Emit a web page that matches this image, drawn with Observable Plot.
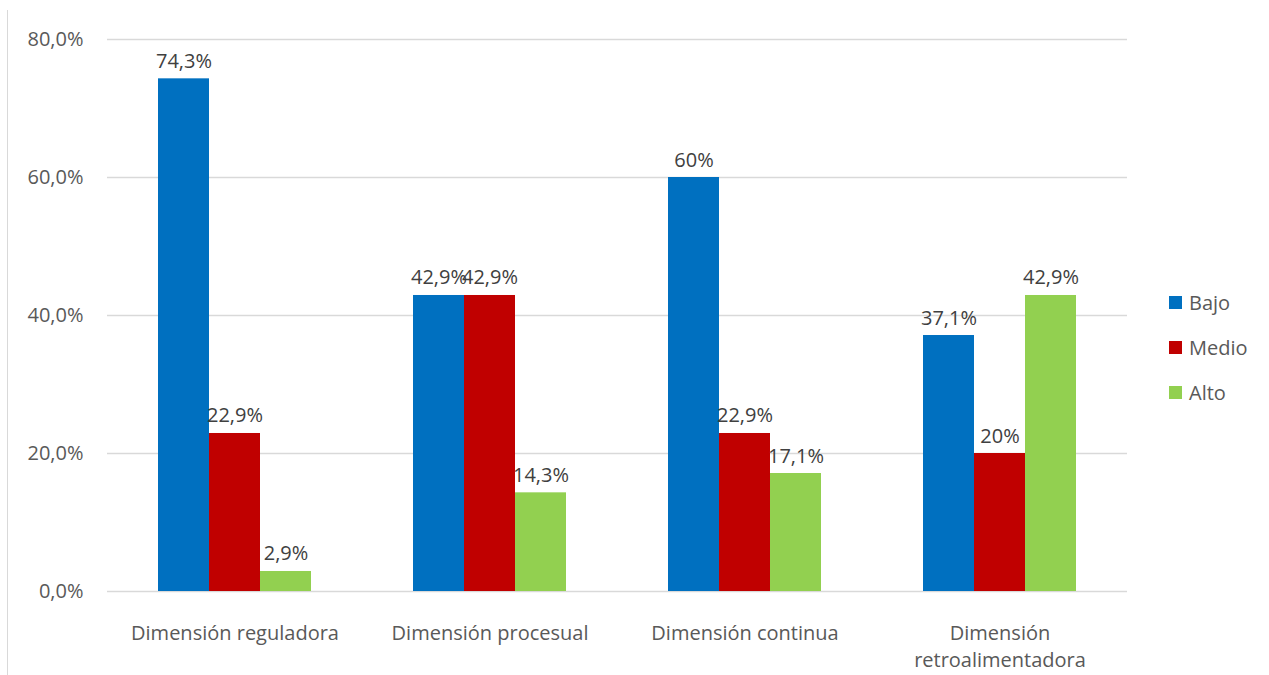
<!DOCTYPE html>
<html>
<head>
<meta charset="utf-8">
<script src="https://cdn.jsdelivr.net/npm/d3@7"></script>
<script src="https://cdn.jsdelivr.net/npm/@observablehq/plot@0.6"></script>
<style>
  html, body { margin: 0; padding: 0; background: #fff; }
  #wrap { position: relative; width: 1269px; height: 675px; overflow: hidden; font-family: "Open Sans", sans-serif; }
  #border { position: absolute; left: 7px; top: 10px; width: 0; height: 670px; border-left: 1.5px solid #d9d9d9; }
  .lg { position: absolute; left: 1169px; height: 30px; display: flex; align-items: center; font-size: 20px; color: #595959; }
  .lg span.sw { width: 13px; height: 13px; display: inline-block; margin-right: 7px; }
</style>
</head>
<body>
<div id="wrap"><div id="border"></div></div>
<script>
const categories = ["Dimensión reguladora", "Dimensión procesual", "Dimensión continua", "Dimensión\nretroalimentadora"];
const series = ["Bajo", "Medio", "Alto"];
const colors = ["#0070C0", "#C00000", "#92D050"];
const bajo = [74.3, 42.9, 60, 37.1];
const medio = [22.9, 42.9, 22.9, 20];
const alto = [2.9, 14.3, 17.1, 42.9];
const yTicks = [0, 20, 40, 60, 80];

const seriesValues = [bajo, medio, alto];
const data = [];
categories.forEach((c, i) => {
  series.forEach((s, j) => data.push({category: c, serie: s, value: seriesValues[j][i]}));
});

const fmtLabel = v => (Number.isInteger(v) ? String(v) : v.toFixed(1).replace(".", ",")) + "%";
const fmtTick = v => v.toFixed(1).replace(".", ",") + "%";

const chart = Plot.plot({
  width: 1269,
  height: 675,
  marginLeft: 107,
  marginRight: 142,
  marginTop: 39,
  marginBottom: 84,
  style: {fontFamily: "'Open Sans', sans-serif", fontSize: "20px", color: "#595959", background: "transparent"},
  fx: {domain: categories, padding: 0, label: null, axis: null},
  x: {domain: series, paddingInner: 0, paddingOuter: 1, axis: null},
  y: {domain: [0, 80], label: null},
  color: {domain: series, range: colors},
  marks: [
    Plot.ruleY(yTicks, {stroke: "#d9d9d9", strokeWidth: 1.5, strokeOpacity: 1}),
    Plot.axisY(yTicks, {tickSize: 0, tickPadding: 24, tickFormat: fmtTick, fontSize: 20, fill: "#595959", label: null}),
    Plot.axisFx({anchor: "bottom", tickSize: 0, tickPadding: 30, fontSize: 20, fill: "#595959", lineHeight: 1.33, label: null}),
    Plot.barY(data, {fx: "category", x: "serie", y: "value", fill: "serie", inset: 0}),
    Plot.text(data, {fx: "category", x: "serie", y: "value", text: d => fmtLabel(d.value), lineAnchor: "bottom", dy: -11, fontSize: 20, fill: "#404040"})
  ]
});
const wrap = document.getElementById("wrap");
wrap.appendChild(chart);

const legendCenters = [302, 347, 392];
series.forEach((s, i) => {
  const row = document.createElement("div");
  row.className = "lg";
  row.style.top = (legendCenters[i] - 15) + "px";
  const sw = document.createElement("span");
  sw.className = "sw";
  sw.style.background = colors[i];
  row.appendChild(sw);
  row.appendChild(document.createTextNode(s));
  wrap.appendChild(row);
});
</script>
</body>
</html>
